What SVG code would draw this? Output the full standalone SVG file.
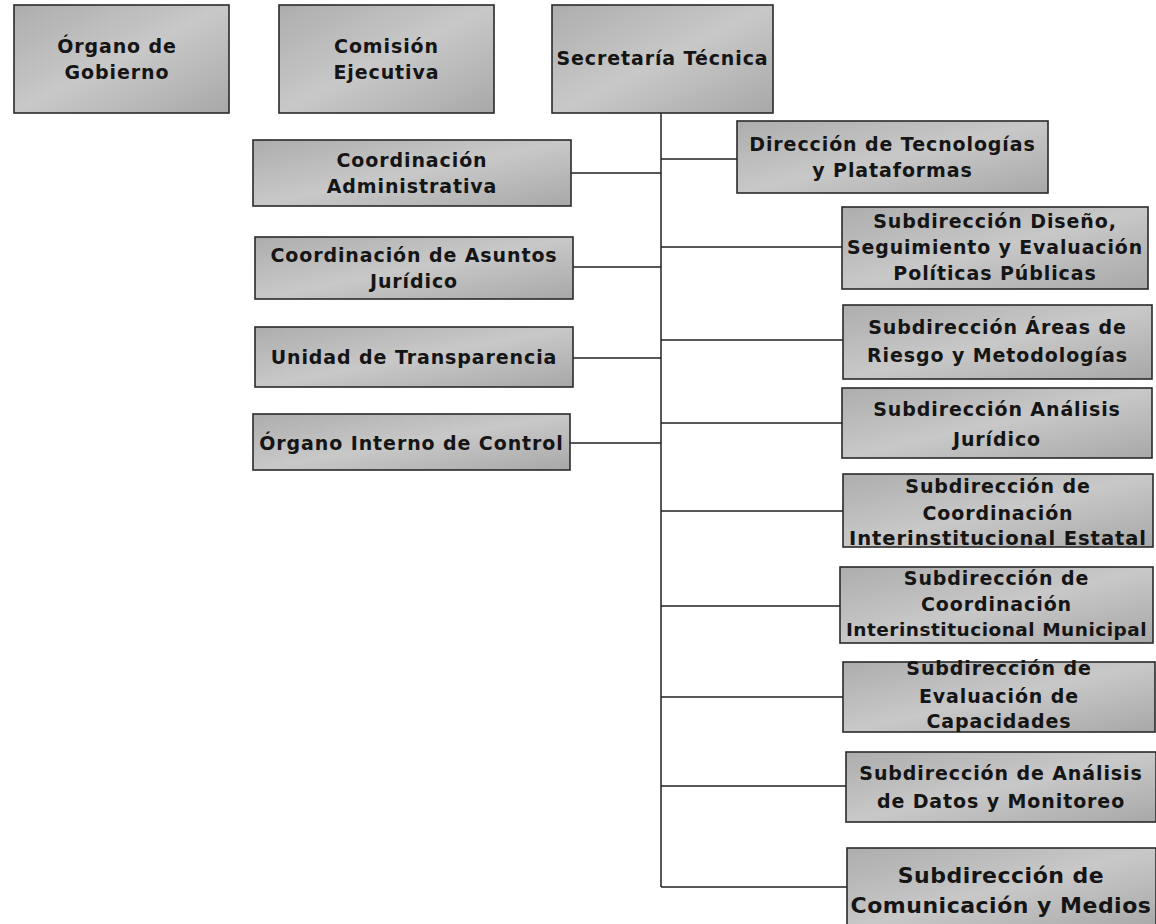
<svg xmlns="http://www.w3.org/2000/svg" width="1156" height="924" viewBox="0 0 1156 924">
<defs>
<linearGradient id="g" x1="0" y1="0" x2="1" y2="1">
<stop offset="0" stop-color="#adadad"/>
<stop offset="0.5" stop-color="#c8c8c8"/>
<stop offset="1" stop-color="#a8a8a8"/>
</linearGradient>
</defs>
<style>
.box{fill:url(#g);stroke:#2a2a2a;stroke-width:1.6}
.t{font-family:"DejaVu Sans","Liberation Sans",sans-serif;font-weight:bold;font-size:19px;letter-spacing:0.9px;fill:#151515;text-anchor:middle}
.big{font-size:22px;letter-spacing:0.5px}
.tight{font-size:18.5px;letter-spacing:0.5px}
.c{stroke:#222;stroke-width:1.5;fill:none}
</style>
<rect width="1156" height="924" fill="#ffffff"/>
<g id="connectors">
<path class="c" d="M661 113V887"/>
<path class="c" d="M571 173H661M573 267H661M573 358H661M570 443H661"/>
<path class="c" d="M661 159H737M661 247H842M661 340H843M661 423H842M661 511H843M661 606H840M661 697H843M661 786H846M661 887H847"/>
</g>
<g id="organo_gobierno"><rect class="box" x="14" y="5" width="215" height="108"/><text class="t" x="117" y="53">Órgano de</text><text class="t" x="117" y="79">Gobierno</text></g>
<g id="comision_ejecutiva"><rect class="box" x="279" y="5" width="215" height="108"/><text class="t" x="386.5" y="53">Comisión</text><text class="t" x="386.5" y="79">Ejecutiva</text></g>
<g id="secretaria_tecnica"><rect class="box" x="552" y="5" width="221" height="108"/><text class="t" x="662.5" y="65">Secretaría Técnica</text></g>
<g id="coord_admin"><rect class="box" x="253" y="140" width="318" height="66"/><text class="t" x="412" y="167">Coordinación</text><text class="t" x="412" y="193">Administrativa</text></g>
<g id="coord_juridico"><rect class="box" x="255" y="237" width="318" height="62"/><text class="t" x="414" y="262">Coordinación de Asuntos</text><text class="t" x="414" y="288">Jurídico</text></g>
<g id="unidad_transparencia"><rect class="box" x="255" y="327" width="318" height="60"/><text class="t" x="414" y="364">Unidad de Transparencia</text></g>
<g id="organo_interno"><rect class="box" x="253" y="414" width="317" height="56"/><text class="t" x="411.5" y="450">Órgano Interno de Control</text></g>
<g id="dir_tecnologias"><rect class="box" x="737" y="121" width="311" height="72"/><text class="t" x="892.5" y="151">Dirección de Tecnologías</text><text class="t" x="892.5" y="177">y Plataformas</text></g>
<g id="sub_diseno"><rect class="box" x="842" y="207" width="306" height="82"/><text class="t" x="995" y="228">Subdirección Diseño,</text><text class="t" x="995" y="254" textLength="296" lengthAdjust="spacingAndGlyphs">Seguimiento y Evaluación</text><text class="t" x="995" y="280">Políticas Públicas</text></g>
<g id="sub_areas"><rect class="box" x="843" y="305" width="309" height="74"/><text class="t" x="997.5" y="334">Subdirección Áreas de</text><text class="t" x="997.5" y="362">Riesgo y Metodologías</text></g>
<g id="sub_analisis_juridico"><rect class="box" x="842" y="388" width="310" height="70"/><text class="t" x="997" y="416">Subdirección Análisis</text><text class="t" x="997" y="446">Jurídico</text></g>
<g id="sub_estatal"><rect class="box" x="843" y="474" width="310" height="73"/><text class="t" x="998" y="493">Subdirección de</text><text class="t" x="998" y="520">Coordinación</text><text class="t" x="998" y="545" textLength="298" lengthAdjust="spacingAndGlyphs">Interinstitucional Estatal</text></g>
<g id="sub_municipal"><rect class="box" x="840" y="567" width="313" height="76"/><text class="t" x="996.5" y="585">Subdirección de</text><text class="t" x="996.5" y="611">Coordinación</text><text class="t tight" x="996.5" y="636">Interinstitucional Municipal</text></g>
<g id="sub_evaluacion"><rect class="box" x="843" y="662" width="312" height="70"/><text class="t" x="999" y="675">Subdirección de</text><text class="t" x="999" y="703">Evaluación de</text><text class="t" x="999" y="728">Capacidades</text></g>
<g id="sub_datos"><rect class="box" x="846" y="752" width="310" height="70"/><text class="t" x="1001" y="780">Subdirección de Análisis</text><text class="t" x="1001" y="808">de Datos y Monitoreo</text></g>
<g id="sub_comunicacion"><rect class="box" x="847" y="848" width="309" height="82"/><text class="t big" x="1001" y="883">Subdirección de</text><text class="t big" x="1001" y="913">Comunicación y Medios</text></g>
</svg>
